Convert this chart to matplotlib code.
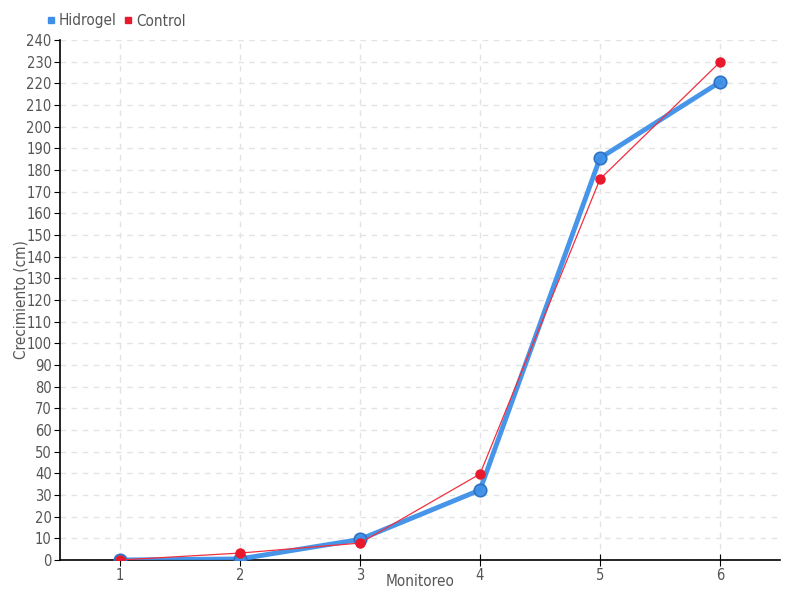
import matplotlib
matplotlib.use("Agg")
import matplotlib.pyplot as plt
from matplotlib.lines import Line2D

plt.rcParams['font.family'] = ['DejaVu Sans']
plt.rcParams['font.stretch'] = 'condensed'

monitoreo = [1, 2, 3, 4, 5, 6]
hidrogel = [0, 0.5, 9.5, 32.3, 185.5, 220.6]
control = [0, 3.2, 7.8, 39.7, 175.8, 229.8]

blue = "#3d8fe8"
red = "#e8192c"
text_c = "#555555"

fig = plt.figure(figsize=(8, 6), dpi=100)
ax = fig.add_axes([60 / 800, 40 / 600, 720 / 800, 520 / 600])

ax.plot(monitoreo, hidrogel, color=blue, lw=3.5, marker="o", ms=9,
        markerfacecolor=blue, markeredgecolor="#2a6fc0", markeredgewidth=1.2,
        alpha=0.95, zorder=3)
ax.plot(monitoreo, control, color="#f0303f", lw=0.9, marker="o", ms=6.5,
        markerfacecolor=red, markeredgecolor=red, zorder=4)

ax.set_xlim(0.5, 6.5)
ax.set_ylim(0, 240)
ax.set_xticks(monitoreo)
ax.set_yticks(range(0, 241, 10))
ax.grid(True, color="#e3e3e3", linestyle=(0, (4, 4)), lw=1)
ax.set_axisbelow(True)
for s in ["top", "right"]:
    ax.spines[s].set_visible(False)
for s in ["left", "bottom"]:
    ax.spines[s].set_color("black")
    ax.spines[s].set_linewidth(1.2)
ax.tick_params(axis="both", colors=text_c, labelsize=10.5, length=4,
               direction="out", pad=2)
ax.tick_params(axis="x", direction="inout", length=8)
ax.tick_params(axis="both", color="black")

fig.text(420 / 800, 1 - 581 / 600, "Monitoreo", ha="center", va="center",
         color=text_c, fontsize=11)
fig.text(21 / 800, 1 - 300 / 600, "Crecimiento (cm)", ha="center", va="center",
         rotation=90, color=text_c, fontsize=11)

handles = [Line2D([], [], ls="", marker="s", ms=5, color=blue),
           Line2D([], [], ls="", marker="s", ms=5, color=red)]
fig.legend(handles, ["Hidrogel", "Control"], loc="center left",
           bbox_to_anchor=(46 / 800, 1 - 21 / 600), ncol=2, frameon=False,
           handlelength=0.6, handletextpad=0.2, columnspacing=0.5,
           labelcolor=text_c, fontsize=11, borderpad=0, borderaxespad=0)

fig.savefig("out.png", dpi=100)
